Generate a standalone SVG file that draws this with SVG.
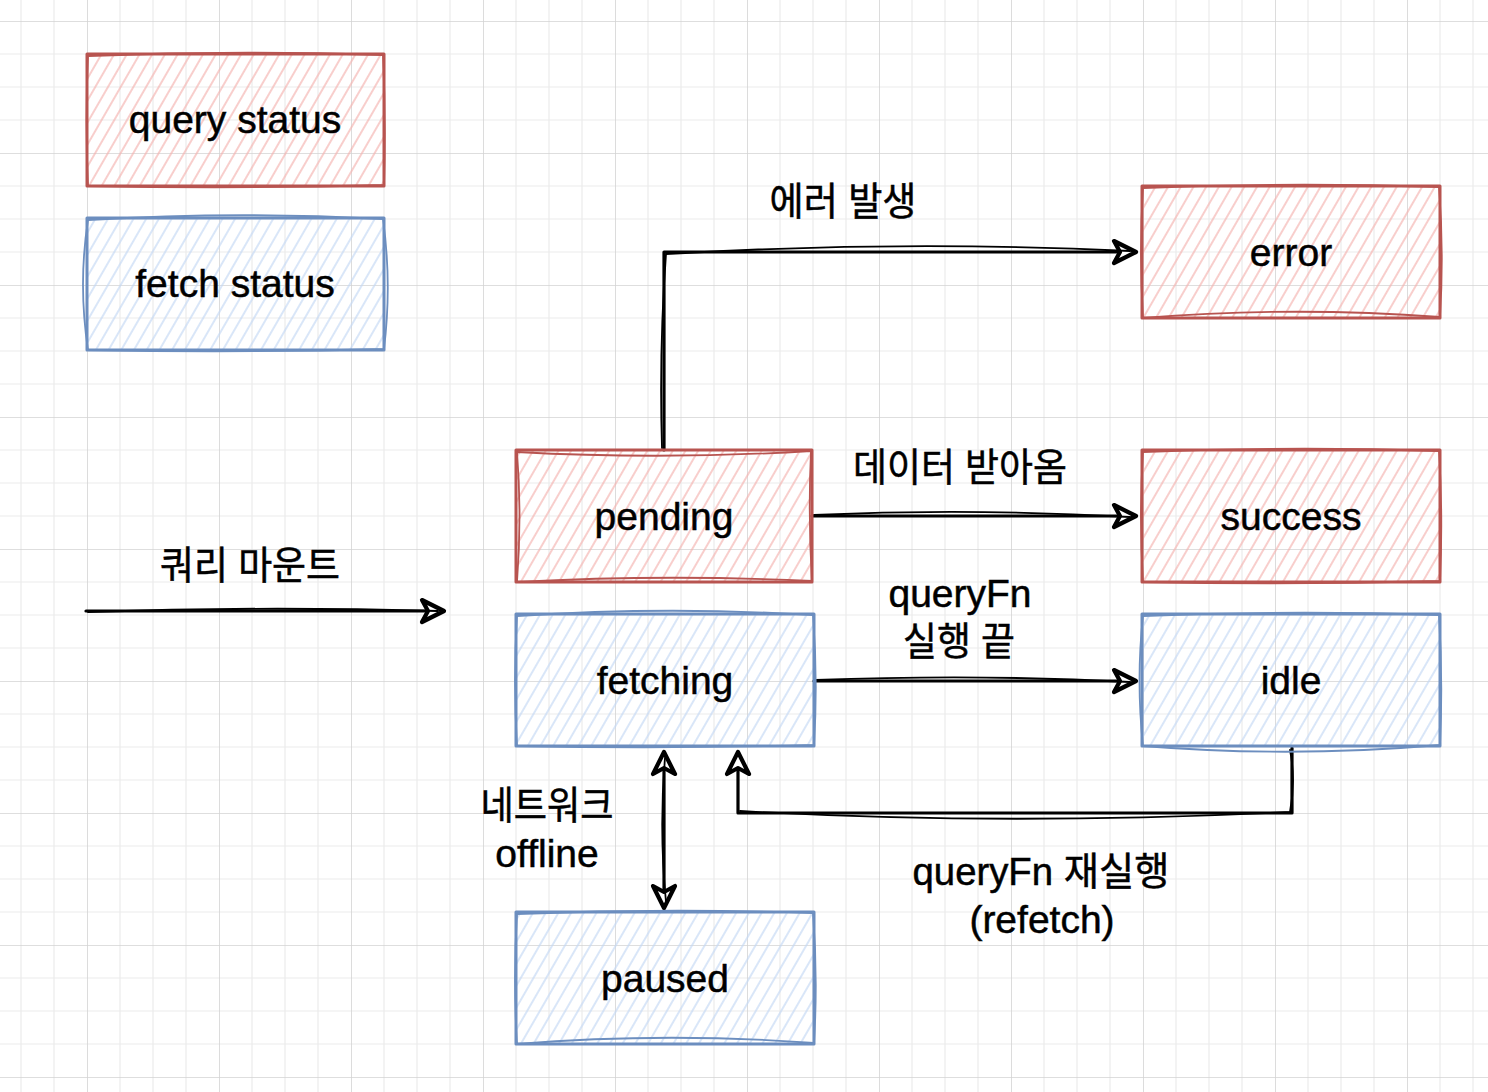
<svg xmlns="http://www.w3.org/2000/svg" width="1488" height="1092" viewBox="0 0 1488 1092">
<style>
.t{font-family:"Liberation Sans","Noto Sans CJK KR",sans-serif;font-size:39px;fill:#000;stroke:#000;stroke-width:0.5;text-anchor:middle}
.rs{fill:none;stroke:#b85450;stroke-width:3;stroke-linejoin:round}
.rs2{fill:none;stroke:#b85450;stroke-width:1.8}
.bs{fill:none;stroke:#6c8ebf;stroke-width:3;stroke-linejoin:round}
.bs2{fill:none;stroke:#6c8ebf;stroke-width:1.8}
.c{fill:none;stroke:#000;stroke-width:3.2;stroke-linecap:round;stroke-linejoin:round}
.c2{fill:none;stroke:#000;stroke-width:1.8;stroke-linecap:round}
.ah{fill:#fff;stroke:#000;stroke-width:4.2;stroke-linejoin:round}
</style>
<defs>
<pattern id="grid" width="132" height="132" patternUnits="userSpaceOnUse" x="87" y="21">
<path d="M33,0V132M66,0V132M99,0V132M0,33H132M0,66H132M0,99H132" stroke="#ebebeb" stroke-width="1.2" fill="none"/>
<path d="M0,0V132M0,0H132" stroke="#d3d3d3" stroke-width="1.6" fill="none"/>
</pattern>
<pattern id="hr" width="11" height="11" patternUnits="userSpaceOnUse" patternTransform="rotate(30)">
<path d="M5,0V11" stroke="#f4b3b0" stroke-width="1.3"/>
</pattern>
<pattern id="hb" width="11" height="11" patternUnits="userSpaceOnUse" patternTransform="rotate(30)">
<path d="M5,0V11" stroke="#c4d8f4" stroke-width="1.3"/>
</pattern>
<marker id="ar" viewBox="0 0 30 30" refX="26" refY="15" markerWidth="30" markerHeight="30" markerUnits="userSpaceOnUse" orient="auto-start-reverse">
<path class="ah" d="M4,4 L26,15 L4,26 L10,15 Z"/>
</marker>
</defs>
<rect width="1488" height="1092" fill="#fff"/>
<rect width="1488" height="1092" fill="url(#grid)"/>

<g id="connectors">
<path class="c" d="M664,450 L664,252 L1136,252" marker-end="url(#ar)"/>
<path class="c2" d="M662,448 Q659,350 666,254 Q900,240 1130,251"/>
<path class="c" d="M812,516 L1136,516" marker-end="url(#ar)"/>
<path class="c2" d="M814,515 Q970,508 1130,517"/>
<path class="c" d="M814,681 L1136,681" marker-end="url(#ar)"/>
<path class="c2" d="M816,680 Q980,674 1130,682"/>
<path class="c" d="M86,611 L444,611" marker-end="url(#ar)"/>
<path class="c2" d="M88,612 Q260,606 438,611"/>
<path class="c" d="M664,752 L664,908" marker-start="url(#ar)" marker-end="url(#ar)"/>
<path class="c2" d="M665,758 Q659,830 666,902"/>
<path class="c" d="M1292,748 L1292,813 L738,813 L738,752" marker-end="url(#ar)"/>
<path class="c2" d="M1290,750 Q1296,780 1290,812 Q1000,826 740,811"/>
</g>

<g id="query-status">
<rect x="87" y="54" width="297" height="132" fill="url(#hr)"/>
<path class="rs" d="M87,54 L384,54 L384,186 L87,186 Z"/>
<path class="rs2" d="M88,56 Q235,50 383,55 Q386,120 384,185 Q235,189 88,186 Q85,120 88,56"/>
<text class="t" x="235" y="133">query status</text>
</g>
<g id="fetch-status">
<rect x="87" y="218" width="297" height="132" fill="url(#hb)"/>
<path class="bs" d="M87,218 L384,218 L384,350 L87,350 Z"/>
<path class="bs2" d="M88,220 Q235,211 383,219 Q392,284 384,349 Q235,353 88,350 Q78,284 88,220"/>
<text class="t" x="235" y="297">fetch status</text>
</g>
<g id="error">
<rect x="1142" y="186" width="298" height="132" fill="url(#hr)"/>
<path class="rs" d="M1142,186 L1440,186 L1440,318 L1142,318 Z"/>
<path class="rs2" d="M1143,188 Q1291,182 1439,187 Q1444,252 1440,317 Q1291,306 1143,318 Q1139,252 1143,188"/>
<text class="t" x="1291" y="266">error</text>
</g>
<g id="pending">
<rect x="516" y="450" width="296" height="132" fill="url(#hr)"/>
<path class="rs" d="M516,450 L812,450 L812,582 L516,582 Z"/>
<path class="rs2" d="M517,452 Q664,460 811,451 Q808,516 812,581 Q664,574 517,582 Q522,516 517,452"/>
<text class="t" x="664" y="530">pending</text>
</g>
<g id="success">
<rect x="1142" y="450" width="298" height="132" fill="url(#hr)"/>
<path class="rs" d="M1142,450 L1440,450 L1440,582 L1142,582 Z"/>
<path class="rs2" d="M1143,452 Q1291,446 1439,451 Q1443,516 1440,581 Q1291,585 1143,582 Q1139,516 1143,452"/>
<text class="t" x="1291" y="530">success</text>
</g>
<g id="fetching">
<rect x="516" y="614" width="298" height="132" fill="url(#hb)"/>
<path class="bs" d="M516,614 L814,614 L814,746 L516,746 Z"/>
<path class="bs2" d="M517,616 Q665,606 813,615 Q818,680 814,745 Q665,749 517,746 Q513,680 517,616"/>
<text class="t" x="665" y="694">fetching</text>
</g>
<g id="idle">
<rect x="1142" y="614" width="298" height="132" fill="url(#hb)"/>
<path class="bs" d="M1142,614 L1440,614 L1440,746 L1142,746 Z"/>
<path class="bs2" d="M1143,616 Q1291,610 1439,615 Q1443,680 1440,745 Q1291,758 1143,746 Q1136,680 1143,616"/>
<text class="t" x="1291" y="694">idle</text>
</g>
<g id="paused">
<rect x="516" y="912" width="298" height="132" fill="url(#hb)"/>
<path class="bs" d="M516,912 L814,912 L814,1044 L516,1044 Z"/>
<path class="bs2" d="M517,914 Q665,908 813,913 Q818,978 814,1043 Q665,1032 517,1044 Q513,978 517,914"/>
<text class="t" x="665" y="992">paused</text>
</g>

<g id="labels">
<text class="t" x="843" y="215" textLength="147" lengthAdjust="spacingAndGlyphs">에러 발생</text>
<text class="t" x="960" y="481" textLength="214" lengthAdjust="spacingAndGlyphs">데이터 받아옴</text>
<text class="t" x="960" y="607">queryFn</text>
<text class="t" x="959" y="655" textLength="112" lengthAdjust="spacingAndGlyphs">실행 끝</text>
<text class="t" x="250" y="579" textLength="180" lengthAdjust="spacingAndGlyphs">쿼리 마운트</text>
<text class="t" x="547" y="819" textLength="133" lengthAdjust="spacingAndGlyphs">네트워크</text>
<text class="t" x="547" y="867">offline</text>
<text class="t" x="1041" y="885" textLength="257" lengthAdjust="spacingAndGlyphs">queryFn 재실행</text>
<text class="t" x="1042" y="933">(refetch)</text>
</g>
</svg>
